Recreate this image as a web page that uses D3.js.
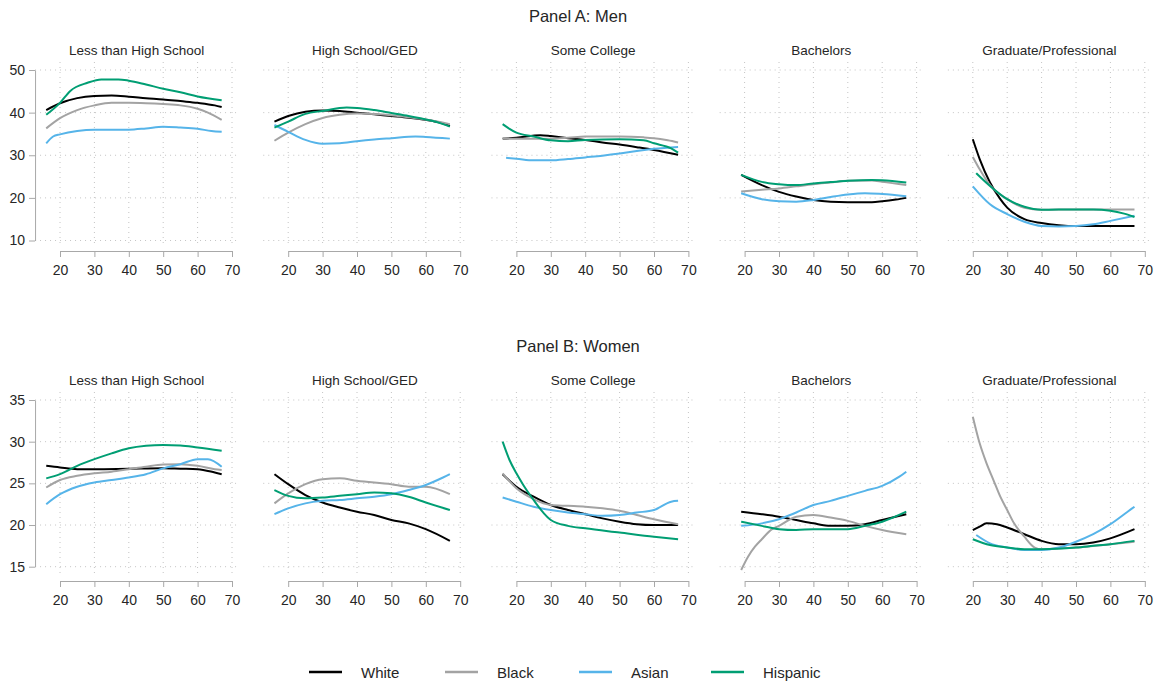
<!DOCTYPE html>
<html>
<head>
<meta charset="utf-8">
<script src="https://cdn.jsdelivr.net/npm/d3@7"></script>
<style>
  body { margin: 0; background: #fff; }
  svg text { font-family: "Liberation Sans", Arial, Helvetica, sans-serif; fill: #262626; }
</style>
</head>
<body>
<svg id="chart" width="1159" height="685"></svg>
<script>
// Categories and tick labels
const races = ["White", "Black", "Asian", "Hispanic"];
const raceColors = ["#000000", "#a3a3a3", "#56b4e9", "#009e73"];
const educationLevels = ["Less than High School", "High School/GED", "Some College", "Bachelors", "Graduate/Professional"];
const ageTicks = [20, 30, 40, 50, 60, 70];
const menTicks = [10, 20, 30, 40, 50];
const womenTicks = [15, 20, 25, 30, 35];

// Series values: [age, value] pairs per race, one table per panel
const menLessHS = {
  White:    [[16,40.6],[20,42.2],[25,43.4],[30,43.9],[35,44.0],[40,43.75],[45,43.4],[50,43.1],[55,42.7],[60,42.3],[65,41.7],[67,41.3]],
  Black:    [[16,36.3],[20,38.7],[25,40.6],[30,41.7],[35,42.3],[40,42.3],[45,42.2],[50,42.0],[55,41.7],[60,40.9],[63,40.0],[67,38.3]],
  Asian:    [[16,32.8],[18,34.4],[20,34.9],[25,35.7],[30,36.0],[35,36.0],[40,36.0],[45,36.3],[50,36.7],[55,36.5],[60,36.2],[64,35.7],[67,35.5]],
  Hispanic: [[16,39.5],[20,42.3],[23,45.1],[28,47.0],[32,47.8],[37,47.8],[40,47.5],[45,46.6],[50,45.6],[55,44.8],[60,43.8],[67,42.9]]
};
const menHS = {
  White:    [[16,37.9],[20,39.2],[25,40.2],[30,40.5],[35,40.4],[40,40.0],[45,39.6],[50,39.2],[55,38.8],[60,38.3],[64,37.7],[67,36.9]],
  Black:    [[16,33.4],[20,35.3],[25,37.3],[30,38.75],[35,39.5],[40,39.8],[45,39.7],[50,39.4],[55,38.9],[60,38.4],[67,37.3]],
  Asian:    [[16,37.1],[20,35.5],[25,33.6],[30,32.7],[35,32.8],[40,33.3],[45,33.7],[50,34.0],[57,34.4],[60,34.3],[67,33.9]],
  Hispanic: [[16,36.5],[20,37.9],[25,39.7],[30,40.4],[37,41.2],[40,41.1],[45,40.6],[50,39.9],[55,39.2],[60,38.4],[64,37.6],[67,36.7]]
};
const menSomeCollege = {
  White:    [[16,33.9],[20,34.1],[27,34.7],[30,34.5],[35,34.0],[40,33.6],[45,33.0],[50,32.5],[55,31.9],[60,31.25],[67,30.1]],
  Black:    [[16,34.0],[20,33.9],[30,33.9],[35,34.1],[40,34.4],[50,34.4],[57,34.2],[60,34.0],[64,33.5],[67,33.0]],
  Asian:    [[17,29.4],[20,29.2],[25,28.8],[30,28.8],[35,29.1],[40,29.5],[45,29.9],[50,30.4],[55,31.0],[60,31.5],[67,31.95]],
  Hispanic: [[16,37.3],[18,36.2],[20,35.3],[25,34.4],[30,33.5],[35,33.3],[40,33.6],[50,33.75],[57,33.5],[60,32.8],[65,31.6],[67,30.6]]
};
const menBachelors = {
  White:    [[19,25.4],[25,23.0],[30,21.4],[35,20.3],[40,19.5],[45,19.1],[50,19.0],[57,19.0],[60,19.2],[64,19.6],[67,20.0]],
  Black:    [[19,21.5],[25,21.9],[30,22.2],[35,22.7],[40,23.2],[45,23.6],[50,24.0],[57,24.1],[60,23.8],[67,23.0]],
  Asian:    [[19,21.1],[25,19.7],[30,19.2],[35,19.1],[40,19.5],[45,20.2],[50,20.8],[55,21.1],[60,20.9],[67,20.4]],
  Hispanic: [[19,25.4],[25,23.75],[30,23.2],[35,23.0],[40,23.4],[45,23.7],[50,24.0],[57,24.2],[60,24.15],[67,23.6]]
};
const menGrad = {
  White:    [[20,33.75],[22,29.1],[25,23.6],[28,19.7],[30,17.7],[35,15.0],[40,14.1],[45,13.6],[50,13.4],[60,13.4],[67,13.4]],
  Black:    [[20,29.6],[22,26.7],[25,23.0],[30,19.7],[35,17.7],[40,17.2],[50,17.3],[55,17.3],[60,17.3],[67,17.3]],
  Asian:    [[20,22.7],[25,18.5],[30,16.2],[35,14.4],[40,13.4],[45,13.3],[50,13.4],[55,13.8],[60,14.6],[67,15.8]],
  Hispanic: [[21,25.8],[25,22.8],[30,19.7],[35,17.9],[40,17.2],[50,17.3],[55,17.3],[60,17.0],[64,16.3],[67,15.5]]
};
const womenLessHS = {
  White:    [[16,27.1],[20,26.9],[25,26.7],[30,26.7],[40,26.75],[50,26.8],[55,26.75],[60,26.7],[65,26.3],[67,26.1]],
  Black:    [[16,24.5],[20,25.4],[25,25.9],[30,26.2],[35,26.4],[40,26.7],[45,27.0],[50,27.25],[55,27.3],[60,27.1],[65,26.7],[67,26.6]],
  Asian:    [[16,22.5],[20,23.7],[25,24.6],[30,25.1],[35,25.4],[40,25.7],[45,26.1],[50,26.8],[55,27.3],[60,27.9],[63,27.9],[67,27.0]],
  Hispanic: [[16,25.6],[20,26.1],[25,27.1],[30,27.9],[35,28.6],[40,29.2],[45,29.5],[50,29.6],[55,29.55],[60,29.3],[67,28.9]]
};
const womenHS = {
  White:    [[16,26.1],[20,24.9],[25,23.6],[30,22.7],[35,22.1],[40,21.6],[45,21.2],[50,20.6],[55,20.2],[60,19.5],[67,18.1]],
  Black:    [[16,22.6],[20,23.8],[25,24.9],[30,25.5],[35,25.6],[40,25.3],[50,24.9],[55,24.6],[60,24.6],[67,23.7]],
  Asian:    [[16,21.3],[20,22.0],[25,22.6],[30,22.9],[35,23.0],[40,23.2],[45,23.4],[50,23.7],[55,24.2],[60,24.8],[65,25.7],[67,26.1]],
  Hispanic: [[16,24.2],[20,23.5],[25,23.2],[30,23.3],[35,23.5],[40,23.7],[45,23.9],[50,23.8],[55,23.4],[60,22.7],[67,21.8]]
};
const womenSomeCollege = {
  White:    [[16,26.1],[20,24.6],[25,23.4],[30,22.4],[35,21.8],[40,21.3],[45,20.8],[50,20.4],[55,20.1],[60,20.0],[67,20.0]],
  Black:    [[16,26.2],[20,24.4],[25,23.1],[30,22.4],[35,22.3],[40,22.2],[45,22.0],[50,21.7],[55,21.2],[60,20.7],[67,20.1]],
  Asian:    [[16,23.3],[20,22.8],[25,22.2],[30,21.8],[35,21.5],[40,21.3],[45,21.1],[50,21.2],[55,21.5],[60,21.8],[65,22.8],[67,22.9]],
  Hispanic: [[16,30.0],[18,27.8],[20,26.2],[22,24.8],[25,23.0],[28,21.4],[30,20.6],[35,19.9],[40,19.6],[50,19.1],[60,18.6],[67,18.3]]
};
const womenBachelors = {
  White:    [[19,21.6],[25,21.3],[30,21.0],[35,20.6],[40,20.2],[45,19.9],[50,19.9],[55,20.1],[60,20.6],[67,21.3]],
  Black:    [[19,14.6],[21,16.2],[23,17.4],[25,18.3],[28,19.5],[30,19.9],[35,21.0],[40,21.2],[45,20.9],[50,20.5],[55,19.9],[60,19.4],[67,18.9]],
  Asian:    [[19,19.9],[25,20.2],[30,20.7],[35,21.5],[40,22.4],[45,22.9],[50,23.5],[55,24.1],[60,24.7],[65,25.8],[67,26.4]],
  Hispanic: [[19,20.4],[25,19.9],[30,19.5],[35,19.4],[40,19.5],[50,19.5],[55,19.9],[60,20.4],[67,21.6]]
};
const womenGrad = {
  White:    [[20,19.4],[22,19.8],[24,20.2],[27,20.1],[30,19.7],[35,18.9],[40,18.1],[45,17.7],[50,17.7],[55,17.9],[60,18.4],[67,19.5]],
  Black:    [[20,33.0],[22,29.8],[24,27.4],[26,25.4],[28,23.4],[30,21.8],[32,20.2],[35,18.6],[38,17.3],[40,17.1],[45,17.2],[50,17.3],[60,17.7],[67,18.0]],
  Asian:    [[21,18.8],[25,17.8],[30,17.3],[35,17.0],[40,17.0],[45,17.3],[50,18.0],[55,18.9],[60,20.1],[65,21.6],[67,22.2]],
  Hispanic: [[20,18.3],[25,17.6],[30,17.3],[35,17.1],[40,17.1],[50,17.3],[55,17.5],[60,17.7],[67,18.1]]
};

const rows = [
  { title: "Panel A: Men", panels: [menLessHS, menHS, menSomeCollege, menBachelors, menGrad],
    ticks: menTicks, domain: [10, 50], range: [240.5, 70],
    titleY: 21.5, subY: 54.5, axisY: 251, gridTop: 62, gridBottom: 246 },
  { title: "Panel B: Women", panels: [womenLessHS, womenHS, womenSomeCollege, womenBachelors, womenGrad],
    ticks: womenTicks, domain: [15, 35], range: [566.7, 400],
    titleY: 351.5, subY: 384.5, axisY: 581, gridTop: 392, gridBottom: 576 }
];

const svg = d3.select("#chart");
const panelStep = 228.2;
const firstX20 = 60;
const spanPx = 172;           // width of ages 20..70
const axisColor = "#a8a8a8";
const gridColor = "#c4c4c4";

rows.forEach(row => {
  svg.append("text")
    .attr("x", 578).attr("y", row.titleY)
    .attr("text-anchor", "middle")
    .style("font-size", "16.5px")
    .text(row.title);

  const y = d3.scaleLinear().domain(row.domain).range(row.range);

  row.panels.forEach((panel, i) => {
    const x20 = firstX20 + i * panelStep;
    const x = d3.scaleLinear().domain([20, 70]).range([x20, x20 + spanPx]);
    const left = x(12.75), right = x(71.8);
    const g = svg.append("g");

    // subtitle
    g.append("text")
      .attr("x", (left + right) / 2).attr("y", row.subY)
      .attr("text-anchor", "middle")
      .style("font-size", "13.5px")
      .text(educationLevels[i]);

    // dotted grid
    g.append("g").selectAll("line").data(row.ticks).join("line")
      .attr("x1", left).attr("x2", right)
      .attr("y1", d => y(d)).attr("y2", d => y(d))
      .attr("stroke", gridColor).attr("stroke-width", 1)
      .attr("stroke-dasharray", "1,4");
    g.append("g").selectAll("line").data(ageTicks).join("line")
      .attr("x1", d => x(d)).attr("x2", d => x(d))
      .attr("y1", row.gridTop).attr("y2", row.gridBottom)
      .attr("stroke", gridColor).attr("stroke-width", 1)
      .attr("stroke-dasharray", "1,4");

    // x axis
    const xAxis = g.append("g")
      .attr("transform", `translate(0,${row.axisY})`)
      .call(d3.axisBottom(x).tickValues(ageTicks).tickSize(6).tickPadding(8).tickSizeOuter(0));
    xAxis.select(".domain").attr("stroke", axisColor);
    xAxis.selectAll(".tick line").attr("stroke", axisColor);
    xAxis.selectAll("text").style("font-size", "14px").attr("fill", "#262626")
      .style("font-family", "\"Liberation Sans\", Arial, sans-serif");

    // y axis on first panel only
    if (i === 0) {
      const yAxis = g.append("g")
        .attr("transform", `translate(${left},0)`)
        .call(d3.axisLeft(y).tickValues(row.ticks).tickSize(6).tickPadding(4).tickSizeOuter(0));
      yAxis.select(".domain").attr("stroke", axisColor);
      yAxis.selectAll(".tick line").attr("stroke", axisColor);
      yAxis.selectAll("text").style("font-size", "14px").attr("fill", "#262626")
        .style("font-family", "\"Liberation Sans\", Arial, sans-serif");
    }

    // series lines
    const line = d3.line()
      .x(d => x(d[0])).y(d => y(d[1]))
      .curve(d3.curveMonotoneX);
    races.forEach((race, k) => {
      g.append("path")
        .datum(panel[race])
        .attr("d", line)
        .attr("fill", "none")
        .attr("stroke", raceColors[k])
        .attr("stroke-width", 2)
        .attr("stroke-linejoin", "round");
    });
  });
});

// legend
const legendX = [309, 445, 579, 711];
const legend = svg.append("g");
races.forEach((race, k) => {
  legend.append("line")
    .attr("x1", legendX[k]).attr("x2", legendX[k] + 33)
    .attr("y1", 672).attr("y2", 672)
    .attr("stroke", raceColors[k]).attr("stroke-width", 2.5);
  legend.append("text")
    .attr("x", legendX[k] + 52).attr("y", 677.5)
    .style("font-size", "15px")
    .text(race);
});
</script>
</body>
</html>
